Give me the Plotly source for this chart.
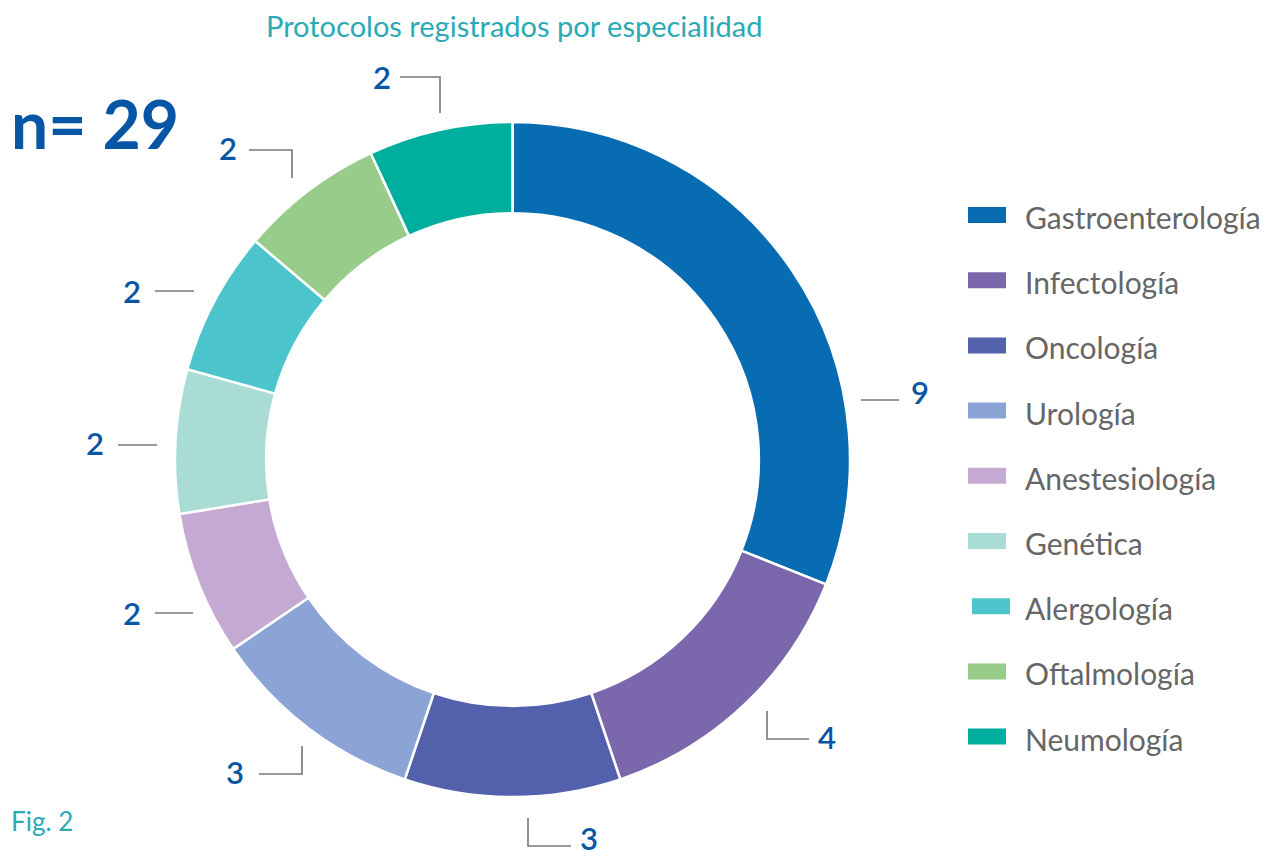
import plotly.graph_objects as go

categories = ["Gastroenterología", "Infectología", "Oncología", "Urología", "Anestesiología",
              "Genética", "Alergología", "Oftalmología", "Neumología"]
values = [9, 4, 3, 3, 2, 2, 2, 2, 2]
colors = ["#086CB3", "#7B68AC", "#5360AC", "#8BA4D5", "#C4AAD2",
          "#A9DCD5", "#4BC4CC", "#98CC8A", "#00AE9D"]

# page has an 8px body margin; size the figure to fill the rest of the window
OFF = 8
W, H = 1276 - OFF, 857 - OFF
def px(x): return (x - OFF) / W
def py(y): return 1 - (y - OFF) / H

FONT = "Lato"
BLUE = "#0656A5"
GRAY = "#7A7672"

fig = go.Figure(go.Pie(
    labels=categories, values=values, hole=0.73, sort=False, direction="clockwise",
    rotation=0, textinfo="none", hoverinfo="label+value",
    marker=dict(colors=colors, line=dict(color="white", width=2.5)),
    domain=dict(x=[px(175), px(850)], y=[py(797), py(122)]),
    showlegend=False,
))

shapes = []
annotations = []

# leader lines: polyline points (pixel positions) and label anchor per slice
leaders = [
    ([(861, 400), (899, 400)], (909, 392, "left")),
    ([(767, 711), (767, 739), (809, 739)], (816, 737, "left")),
    ([(528, 818), (528, 846), (571, 846)], (578, 838, "left")),
    ([(302, 746), (302, 774), (259, 774)], (246, 772, "right")),
    ([(193, 613), (155, 613)], (143, 613, "right")),
    ([(157, 445), (118, 445)], (106, 443, "right")),
    ([(194, 291), (155, 291)], (143, 291, "right")),
    ([(292, 178), (292, 150), (249, 150)], (239, 148, "right")),
    ([(440, 113), (440, 77), (400, 77)], (393, 77, "right")),
]
for v, (pts, (tx, ty, anch)) in zip(values, leaders):
    path = "M " + " L ".join(f"{px(a)},{py(b)}" for a, b in pts)
    shapes.append(dict(type="path", xref="paper", yref="paper", path=path,
                       line=dict(color=GRAY, width=1.6)))
    annotations.append(dict(x=px(tx), y=py(ty), xref="paper", yref="paper", text=str(v),
                            xanchor=anch, yanchor="middle", showarrow=False,
                            font=dict(family=FONT, size=31, color=BLUE, weight=600)))

# custom legend
for i, (c, col) in enumerate(zip(categories, colors)):
    yc = 215 + 65.2 * i
    dx = 4 if c == "Alergología" else 0
    shapes.append(dict(type="rect", xref="paper", yref="paper",
                       x0=px(968 + dx), x1=px(1006 + dx), y0=py(yc - 8), y1=py(yc + 8),
                       fillcolor=col, line=dict(width=0)))
    annotations.append(dict(x=px(1023), y=py(yc + 2), xref="paper", yref="paper", text=c,
                            xanchor="left", yanchor="middle", showarrow=False,
                            font=dict(family=FONT, size=30, color="#666666")))

annotations.append(dict(x=px(514), y=py(25), xref="paper", yref="paper",
                        text="Protocolos registrados por especialidad", showarrow=False,
                        xanchor="center", yanchor="middle",
                        font=dict(family=FONT, size=29, color="#2BA9B4")))
annotations.append(dict(x=px(9), y=py(124), xref="paper", yref="paper", text="n=&nbsp;29",
                        showarrow=False, xanchor="left", yanchor="middle",
                        font=dict(family=FONT, size=66, color=BLUE, weight=700)))
annotations.append(dict(x=px(9), y=py(821), xref="paper", yref="paper", text="Fig. 2",
                        showarrow=False, xanchor="left", yanchor="middle",
                        font=dict(family=FONT, size=26, color="#2BA9B4")))

fig.update_layout(width=W, height=H, margin=dict(l=0, r=0, t=0, b=0),
                  paper_bgcolor="white", plot_bgcolor="white",
                  shapes=shapes, annotations=annotations)
fig.write_html("out.html")
